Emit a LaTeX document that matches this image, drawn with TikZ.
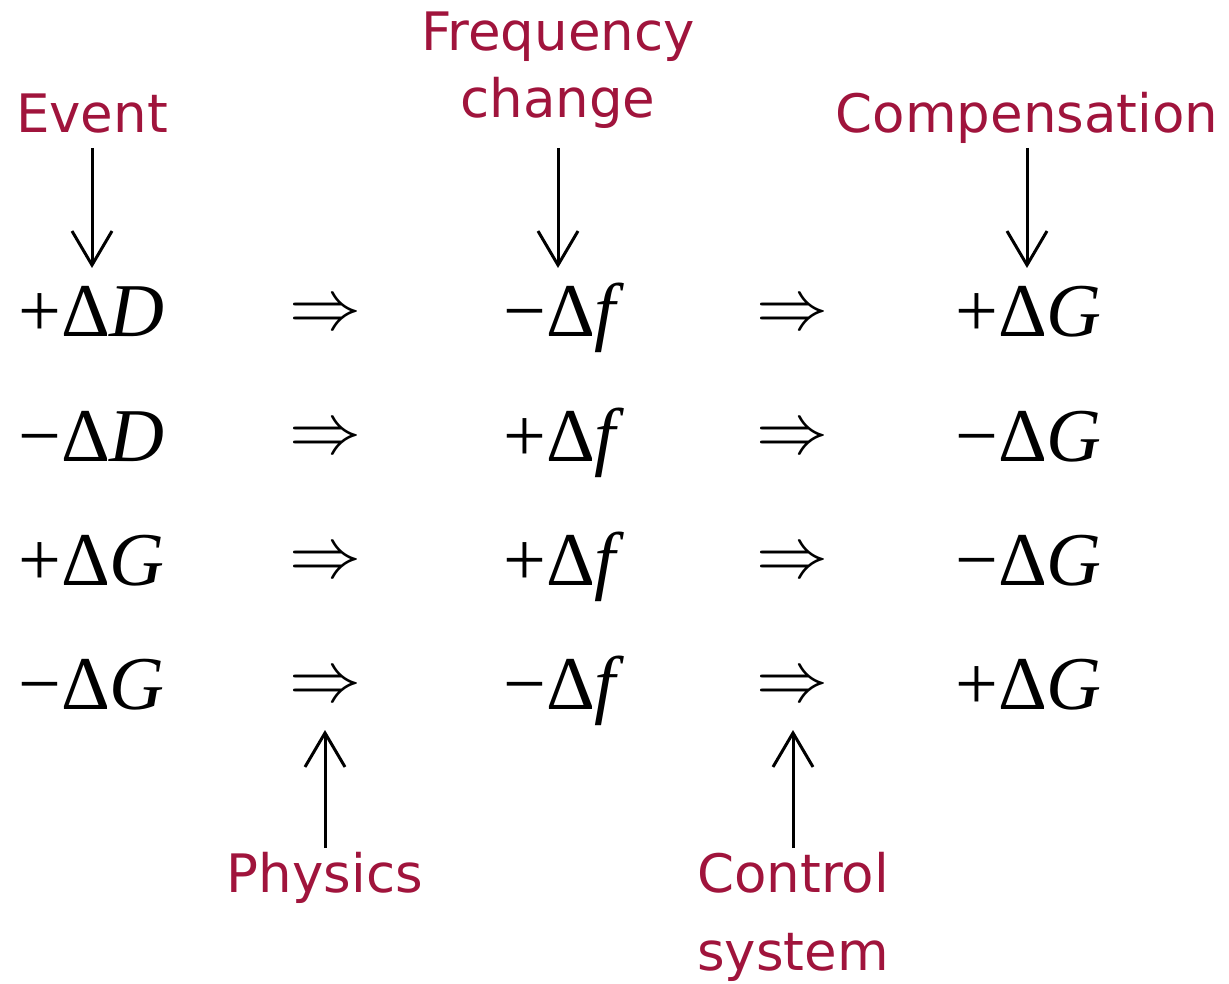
\documentclass[tikz,border=0pt]{standalone}
\usepackage{fontspec}
\usepackage{graphicx}
\setmainfont{Liberation Serif}
\newfontfamily\labfont{DejaVu Sans}
\newfontfamily\tmsfont{Liberation Serif}
\usetikzlibrary{arrows.meta}
\definecolor{labred}{RGB}{160,20,60}
\newcommand{\impl}{\scalebox{7.2}{$\Rightarrow$}}
\begin{document}
\begin{tikzpicture}[x=1pt,y=-1pt,
  lbl/.style={font=\labfont\fontsize{53}{64}\selectfont, text=labred, inner sep=0pt, anchor=base},
  mth/.style={font=\tmsfont\fontsize{76}{80}\selectfont, inner sep=0pt, anchor=base west},
  imp/.style={inner sep=0pt, anchor=center},
  arr/.style={line width=3pt, -{Straight Barb[length=34pt,width=40pt]}}]
\useasboundingbox (0,0) rectangle (1229,984);

% top labels
\node[lbl] (evt) at (92,133) {Event};
\node[lbl] (freqA) at (558,51) {Frequency};
\node[lbl] (freqB) at (558,118) {change};
\node[lbl] (comp) at (1027,133) {Compensation};
% bottom labels
\node[lbl] (phys) at (325,892) {Physics};
\node[lbl] (ctrlA) at (793,892) {Control};
\node[lbl] (ctrlB) at (793,970) {system};

% row 1
\node[mth] (a1) at (18,337) {+Δ\textit{D}};
\node[imp] (p1) at (325,316) {\impl};
\node[mth] (b1) at (503,337) {−Δ\textit{f}};
\node[imp] (q1) at (792,316) {\impl};
\node[mth] (c1) at (955,337) {+Δ\textit{G}};
% row 2
\node[mth] (a2) at (18,461) {−Δ\textit{D}};
\node[imp] (p2) at (325,440) {\impl};
\node[mth] (b2) at (503,461) {+Δ\textit{f}};
\node[imp] (q2) at (792,440) {\impl};
\node[mth] (c2) at (955,461) {−Δ\textit{G}};
% row 3
\node[mth] (a3) at (18,585) {+Δ\textit{G}};
\node[imp] (p3) at (325,564) {\impl};
\node[mth] (b3) at (503,585) {+Δ\textit{f}};
\node[imp] (q3) at (792,564) {\impl};
\node[mth] (c3) at (955,585) {−Δ\textit{G}};
% row 4
\node[mth] (a4) at (18,709) {−Δ\textit{G}};
\node[imp] (p4) at (325,688) {\impl};
\node[mth] (b4) at (503,709) {−Δ\textit{f}};
\node[imp] (q4) at (792,688) {\impl};
\node[mth] (c4) at (955,709) {+Δ\textit{G}};

% arrow ends
\coordinate (evtS) at (92,148);   \coordinate (evtE) at (92,268);
\coordinate (frqS) at (558,148);  \coordinate (frqE) at (558,268);
\coordinate (cmpS) at (1027,148); \coordinate (cmpE) at (1027,268);
\coordinate (phyS) at (325,848);  \coordinate (phyE) at (325,730);
\coordinate (ctlS) at (793,848);  \coordinate (ctlE) at (793,730);

\draw[arr] (evtS) -- (evtE);
\draw[arr] (frqS) -- (frqE);
\draw[arr] (cmpS) -- (cmpE);
\draw[arr] (phyS) -- (phyE);
\draw[arr] (ctlS) -- (ctlE);
\end{tikzpicture}
\end{document}
